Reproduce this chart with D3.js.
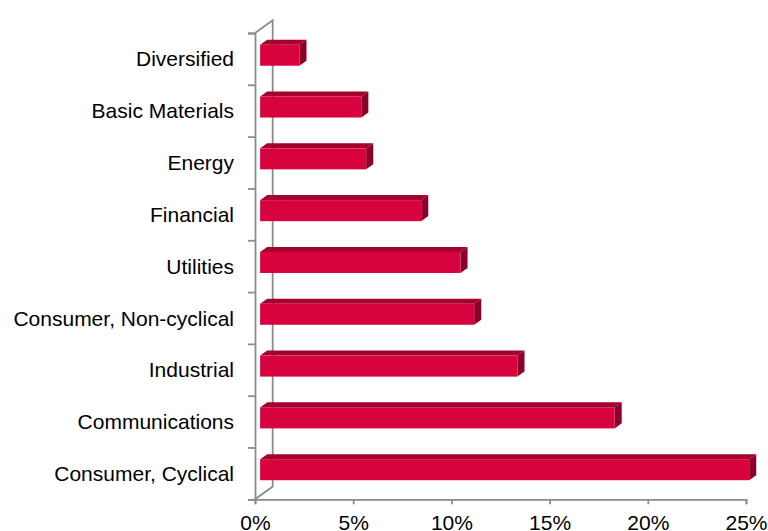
<!DOCTYPE html>
<html>
<head>
<meta charset="utf-8">
<script src="https://cdn.jsdelivr.net/npm/d3@7"></script>
<style>
  html, body { margin: 0; padding: 0; background: #fff; }
  text { font-family: 'Liberation Sans', Arial, sans-serif; fill: #000; }
</style>
</head>
<body>
<svg id="chart"></svg>
<script>
// categories top to bottom, value in percent
const categories = ['Diversified', 'Basic Materials', 'Energy', 'Financial', 'Utilities',
  'Consumer, Non-cyclical', 'Industrial', 'Communications', 'Consumer, Cyclical']
const values = [2.0, 5.15, 5.4, 8.2, 10.2, 10.9, 13.1, 18.05, 24.9]
const xTicks = [0, 5, 10, 15, 20, 25]

const width = 768, height = 531
const colors = { front: '#d8023e', top: '#a6002f', side: '#8a0028', axis: '#8c8c8c' }

// 3d depth of the plot box and where the bars sit in it
const depth = { dx: 17.7, dy: -12.7 }
const barFront = 0.29, barBack = 0.69
const barHeight = 21

const svg = d3.select('#chart').attr('width', width).attr('height', height)

const x = d3.scaleLinear().domain([0, 25]).range([255, 746])
const y = d3.scaleBand().domain(categories).range([33, 499.3])
const yEdge = d3.scaleLinear().domain([0, categories.length]).range([33, 499.3])

const x0 = x(0), yTop = yEdge(0), yBot = yEdge(categories.length)

// walls: back vertical line and the two diagonals
const walls = svg.append('g').attr('stroke', colors.axis).attr('stroke-width', 1.8).attr('fill', 'none')
walls.append('path').attr('d', d3.line()([
  [x0, yTop], [x0 + depth.dx, yTop + depth.dy], [x0 + depth.dx, yBot + depth.dy], [x0, yBot]
]))

// bars
const line = d3.line()
const bars = svg.append('g')
categories.forEach(function (c, i) {
  const yc = y(c) + y.bandwidth() / 2
  const fx = depth.dx * barFront, fy = depth.dy * barFront
  const bx = depth.dx * barBack, by = depth.dy * barBack
  const xl = x(0), xr = x(values[i])
  const t = yc - barHeight / 2, b = yc + barHeight / 2

  bars.append('path').attr('fill', colors.top).attr('d', line([
    [xl + fx, t + fy], [xr + fx, t + fy], [xr + bx, t + by], [xl + bx, t + by]
  ]) + 'Z')
  bars.append('path').attr('fill', colors.side).attr('d', line([
    [xr + fx, t + fy], [xr + bx, t + by], [xr + bx, b + by], [xr + fx, b + fy]
  ]) + 'Z')
  bars.append('rect').attr('fill', colors.front)
    .attr('x', xl + fx).attr('y', t + fy)
    .attr('width', xr - xl).attr('height', barHeight)
})

// front axes
const xAxis = svg.append('g').attr('transform', 'translate(0,' + yBot + ')')
  .call(d3.axisBottom(x).tickValues(xTicks).tickSize(5).tickPadding(11).tickFormat(d => d + '%'))
xAxis.selectAll('text').attr('font-size', 21)

const yTicks = svg.append('g').attr('transform', 'translate(' + x0 + ',0)')
  .call(d3.axisLeft(yEdge).tickValues(d3.range(categories.length + 1)).tickSize(7).tickFormat(''))

const yLabels = svg.append('g').attr('transform', 'translate(' + x0 + ',0)')
  .call(d3.axisLeft(y).tickSize(0).tickPadding(21))
yLabels.select('.domain').remove()
yLabels.selectAll('text').attr('font-size', 21).attr('dy', '0.36em')

svg.selectAll('.domain, .tick line').attr('stroke', colors.axis).attr('stroke-width', 1.8)
svg.selectAll('.tick text').attr('fill', '#000').attr('font-family', "'Liberation Sans', Arial, sans-serif")
</script>
</body>
</html>
